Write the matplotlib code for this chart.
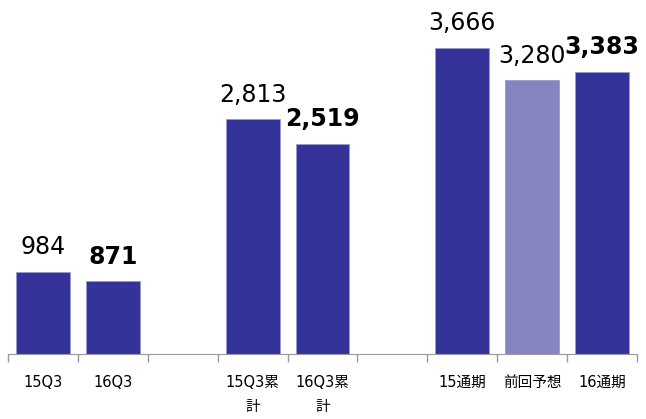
import numpy as np
import matplotlib
matplotlib.use("Agg")
import matplotlib.pyplot as plt
from matplotlib.ticker import FixedLocator

plt.rcParams['font.family'] = ['DejaVu Sans', 'Noto Sans CJK JP']

## data
labels = ['15Q3', '16Q3', '', '15Q3累\n計', '16Q3累\n計', '', '15通期', '前回予想', '16通期']
values = [984, 871, None, 2813, 2519, None, 3666, 3280, 3383]
bold = [False, True, False, False, True, False, False, False, True]
dark = '#333399'
light = '#8585c2'
colors = [dark, dark, dark, dark, dark, dark, dark, light, dark]

fig = plt.figure(figsize=(6.46, 4.19), dpi=100)
ax = fig.add_axes([8 / 646, 65 / 419, 629 / 646, 354 / 419])

x = np.arange(len(labels))
for i, v in enumerate(values):
    if v is None:
        continue
    ax.bar(x[i], v, width=0.77, color=colors[i], edgecolor='#9a9ad0', linewidth=0.6)
    ax.annotate(f'{v:,}', (x[i], v), xytext=(0, 9), textcoords='offset points',
                ha='center', va='bottom', fontsize=17,
                fontweight='bold' if bold[i] else 'normal', annotation_clip=False)

ax.set_xlim(-0.5, len(labels) - 0.5)
ax.set_ylim(0, 4241)

ax.set_xticks(x)
ax.set_xticklabels(labels, fontsize=10.5, linespacing=1.8, va='top')
ax.tick_params(axis='x', which='major', length=0, pad=15)
ax.xaxis.set_minor_locator(FixedLocator(np.arange(-0.5, len(labels), 1.0)))
ax.tick_params(axis='x', which='minor', length=6, color='#999999', width=1)
ax.set_yticks([])
for s in ['top', 'right', 'left']:
    ax.spines[s].set_visible(False)
ax.spines['bottom'].set_color('#999999')

fig.savefig('out.png', dpi=100)
